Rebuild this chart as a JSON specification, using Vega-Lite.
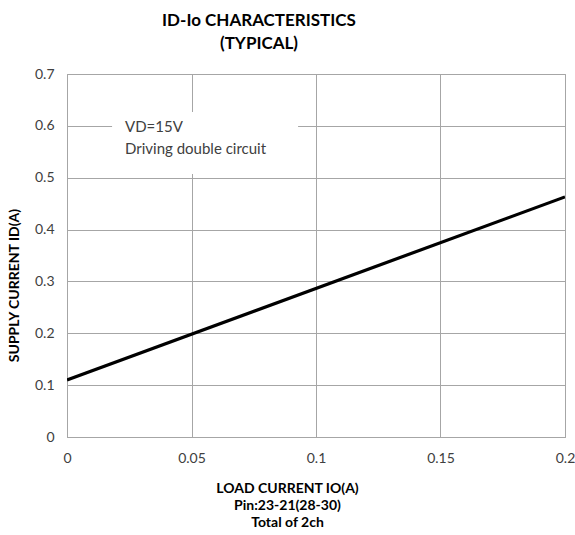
{
  "$schema": "https://vega.github.io/schema/vega-lite/v6.json",
  "width": 498,
  "height": 363,
  "autosize": {"type": "none"},
  "padding": {"left": 67, "top": 74, "right": 10, "bottom": 98},
  "background": "white",
  "title": {
    "text": ["ID-Io CHARACTERISTICS", "(TYPICAL)"],
    "font": "Lato",
    "fontSize": 17,
    "fontWeight": "bold",
    "color": "#000000",
    "anchor": "middle",
    "dx": -57,
    "offset": 14,
    "lineHeight": 23
  },
  "config": {
    "view": {"stroke": "#a6a6a6", "strokeWidth": 1},
    "axis": {
      "labelFont": "Lato",
      "labelFontSize": 14,
      "labelColor": "#404040",
      "titleFont": "Lato",
      "titleFontSize": 14,
      "titleFontWeight": "bold",
      "titleColor": "#000000",
      "gridColor": "#a6a6a6",
      "gridWidth": 1,
      "domainColor": "#a6a6a6",
      "ticks": false
    }
  },
  "datasets": {
    "curve": [
      {"io": 0, "id": 0.11},
      {"io": 0.2, "id": 0.463}
    ],
    "box": [
      {"x1": 0.0181, "x2": 0.0928, "y1": 0.507, "y2": 0.6267}
    ],
    "notes": [
      {"x": 0.0233, "y": 0.598, "t": "VD=15V"},
      {"x": 0.0233, "y": 0.556, "t": "Driving double circuit"}
    ]
  },
  "layer": [
    {
      "data": {"name": "curve"},
      "mark": {"type": "line", "color": "#000000", "strokeWidth": 3.2, "clip": true},
      "encoding": {
        "x": {
          "field": "io", "type": "quantitative",
          "scale": {"domain": [0, 0.2], "nice": false, "zero": false},
          "axis": {
            "values": [0, 0.05, 0.1, 0.15, 0.2],
            "format": "~g",
            "labelPadding": 14,
            "labelBound": false,
            "labelFlush": false,
            "title": ["LOAD CURRENT IO(A)", "Pin:23-21(28-30)", "Total of 2ch"],
            "titlePadding": 16,
            "titleLineHeight": 17,
            "titleX": 220
          }
        },
        "y": {
          "field": "id", "type": "quantitative",
          "scale": {"domain": [0, 0.7], "nice": false},
          "axis": {
            "values": [0, 0.1, 0.2, 0.3, 0.4, 0.5, 0.6, 0.7],
            "format": "~g",
            "labelPadding": 13,
            "title": "SUPPLY CURRENT ID(A)",
            "titlePadding": 13,
            "titleY": 211
          }
        }
      }
    },
    {
      "data": {"name": "box"},
      "mark": {"type": "rect", "fill": "white"},
      "encoding": {
        "x": {"field": "x1", "type": "quantitative"},
        "x2": {"field": "x2"},
        "y": {"field": "y1", "type": "quantitative"},
        "y2": {"field": "y2"}
      }
    },
    {
      "data": {"name": "notes"},
      "mark": {"type": "text", "font": "Lato", "fontSize": 15, "color": "#404040", "align": "left", "baseline": "middle"},
      "encoding": {
        "x": {"field": "x", "type": "quantitative"},
        "y": {"field": "y", "type": "quantitative"},
        "text": {"field": "t"}
      }
    }
  ]
}
